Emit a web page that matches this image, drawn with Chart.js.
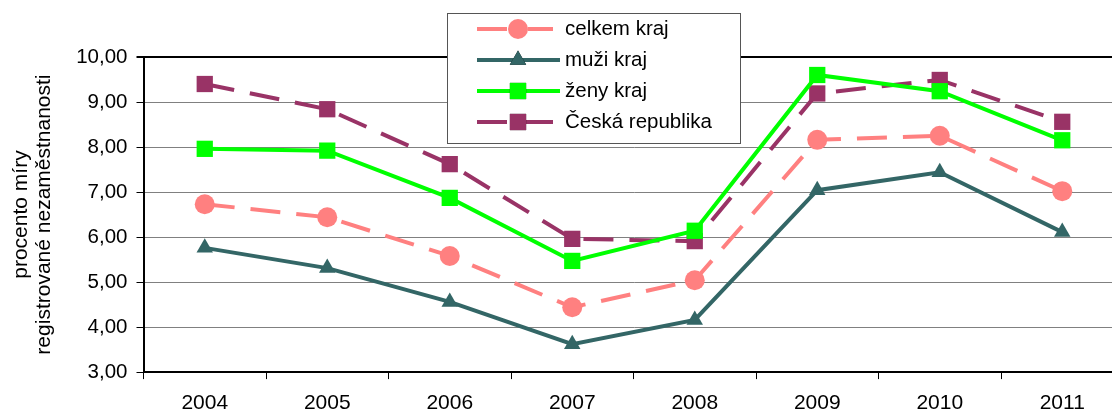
<!DOCTYPE html>
<html>
<head>
<meta charset="utf-8">
<script src="https://cdn.jsdelivr.net/npm/chart.js@4/dist/chart.umd.min.js"></script>
<style>
  html, body { margin: 0; padding: 0; background: #fff; overflow: hidden; }
  #wrap { width: 1112px; height: 414px; overflow: hidden; }
</style>
</head>
<body>
<div id="wrap"><canvas id="chart" width="1135" height="414"></canvas></div>
<script>
var years = ["2004", "2005", "2006", "2007", "2008", "2009", "2010", "2011"];
var celkemKraj = [6.73, 6.44, 5.58, 4.44, 5.04, 8.16, 8.25, 7.02];
var muziKraj = [5.76, 5.31, 4.56, 3.62, 4.16, 7.04, 7.44, 6.11];
var zenyKraj = [7.96, 7.92, 6.87, 5.47, 6.14, 9.60, 9.24, 8.15];
var ceskaRepublika = [9.40, 8.84, 7.62, 5.96, 5.91, 9.19, 9.49, 8.56];

var fontFamily = "'Liberation Sans', Arial, sans-serif";

// legend drawn inside the plot, boxed like the original
var boxLegend = {
  id: 'boxLegend',
  afterDraw: function(chart) {
    var ctx = chart.ctx;
    var x = 447, y = 13, w = 293, h = 130;
    ctx.save();
    ctx.fillStyle = '#fff';
    ctx.fillRect(x, y, w, h);
    ctx.strokeStyle = '#555';
    ctx.lineWidth = 1;
    ctx.strokeRect(x + 0.5, y + 0.5, w, h);
    chart.data.datasets.forEach(function(ds, i) {
      var cy = 29 + i * 31;
      ctx.strokeStyle = ds.borderColor;
      ctx.lineWidth = ds.borderWidth;
      ctx.setLineDash(ds.borderDash || []);
      ctx.beginPath();
      ctx.moveTo(477, cy);
      ctx.lineTo(560, cy);
      ctx.stroke();
      ctx.setLineDash([]);
      Chart.helpers.drawPoint(ctx, {
        pointStyle: ds.pointStyle,
        radius: ds.pointRadius,
        borderWidth: 0
      }, 518, cy);
      ctx.fillStyle = ds.pointBackgroundColor;
      ctx.fill();
      ctx.fillStyle = '#000';
      ctx.font = '20.5px ' + fontFamily;
      ctx.textBaseline = 'middle';
      ctx.fillText(ds.label, 565, cy);
    });
    ctx.restore();
  }
};

function series(label, data, color, style, radius, dash) {
  return {
    label: label,
    data: data,
    borderColor: color,
    backgroundColor: color,
    pointBackgroundColor: color,
    pointBorderColor: color,
    pointBorderWidth: 0,
    pointStyle: style,
    pointRadius: radius,
    borderWidth: 4,
    borderDash: dash,
    tension: 0
  };
}

new Chart('chart', {
  type: 'line',
  data: {
    labels: years,
    datasets: [
      series("celkem kraj", celkemKraj, '#FF8080', 'circle', 10, [30, 16]),
      series("muži kraj", muziKraj, '#336666', 'triangle', 9.5, []),
      series("ženy kraj", zenyKraj, '#00FF00', 'rect', 11.5, []),
      series("Česká republika", ceskaRepublika, '#993366', 'rect', 11.5, [30, 16])
    ]
  },
  options: {
    responsive: false,
    animation: false,
    layout: { padding: { top: 57, left: 10, right: 0, bottom: -14 } },
    plugins: { legend: { display: false }, tooltip: { enabled: false } },
    scales: {
      x: {
        offset: true,
        border: { color: '#000', width: 2 },
        grid: { offset: true, drawOnChartArea: false, tickLength: 7, tickColor: '#000' },
        ticks: { color: '#000', font: { size: 21, family: fontFamily, lineHeight: 0.9 }, padding: 15 }
      },
      y: {
        min: 3, max: 10,
        border: { color: '#000', width: 2 },
        grid: {
          color: function(c) { return c.tick && c.tick.value === 10 ? '#000' : '#808080'; },
          lineWidth: function(c) { return c.tick && c.tick.value === 10 ? 2 : 1; },
          tickLength: 7, tickColor: '#000'
        },
        ticks: {
          stepSize: 1, color: '#000', padding: 9,
          font: { size: 20.5, family: fontFamily },
          callback: function(v) { return v.toFixed(2).replace('.', ','); }
        },
        title: {
          display: true,
          text: ['procento míry', 'registrované nezaměstnanosti'],
          color: '#000',
          font: { size: 21, family: fontFamily, lineHeight: 1.1 },
          padding: { top: 0, bottom: 11 }
        }
      }
    }
  },
  plugins: [boxLegend]
});
</script>
</body>
</html>
